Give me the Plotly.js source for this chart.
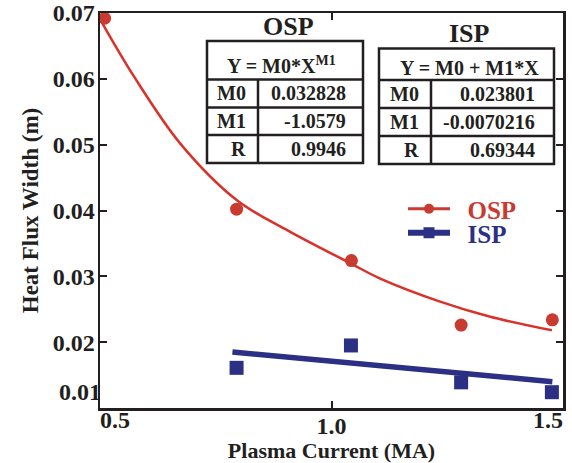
<!DOCTYPE html>
<html><head><meta charset="utf-8">
<script src="https://cdn.plot.ly/plotly-3.0.1.min.js"></script>
<style>html,body{margin:0;padding:0;background:#fff}</style>
</head><body><div id="chart" style="width:572px;height:463px"></div>
<script>
// ---- data ----
const ospCurrent = [0.51, 0.795, 1.043, 1.28, 1.477];
const ospWidth   = [0.0692, 0.0402, 0.0324, 0.0226, 0.0234];
const ispCurrent = [0.795, 1.042, 1.28, 1.476];
const ispWidth   = [0.0161, 0.0195, 0.0139, 0.0124];
const ospFitCurrent = [0.503, 0.573, 0.673, 0.795, 0.907, 1.043, 1.104, 1.233, 1.341, 1.476];
const ospFitWidth   = [0.0687, 0.0604, 0.0502, 0.0416, 0.0369, 0.0319, 0.0297, 0.0262, 0.0239, 0.0218];
const ispFitCurrent = [0.786, 1.477];
const ispFitWidth   = [0.0185, 0.0140];
const xTickVals = [0.5, 1.0, 1.5];
const xTickText = ['0.5', '1.0', '1.5'];
const yTickVals = [0.01, 0.02, 0.03, 0.04, 0.05, 0.06, 0.07];
const yTickText = ['0.01', '0.02', '0.03', '0.04', '0.05', '0.06', '0.07'];
const ospParamNames  = ['M0', 'M1', 'R'];
const ospParamValues = ['0.032828', '-1.0579', '0.9946'];
const ispParamNames  = ['M0', 'M1', 'R'];
const ispParamValues = ['0.023801', '-0.0070216', '0.69344'];
const ospEquation = 'Y = M0*X<sup>M1</sup>';
const ispEquation = 'Y = M0 + M1*X';

// ---- style ----
const RED = '#c93a30', RED_LINE = '#d8322a', BLUE = '#2b3085', INK = '#231f20';
const FONT = 'Liberation Serif, Times New Roman, serif';
const M = {l: 100, r: 9, t: 13, b: 55};
const W = 572, H = 463;
const PW = W - M.l - M.r, PH = H - M.t - M.b;
const PX = p => (p - M.l) / PW;
const PY = p => (H - M.b - p) / PH;

const traces = [
  {x: ospFitCurrent, y: ospFitWidth, mode: 'lines', line: {color: RED_LINE, width: 2.5, shape: 'spline'}, showlegend: false, hoverinfo: 'skip'},
  {x: ispFitCurrent, y: ispFitWidth, mode: 'lines', line: {color: BLUE, width: 5.5}, showlegend: false, hoverinfo: 'skip'},
  {x: ospCurrent, y: ospWidth, mode: 'markers', marker: {symbol: 'circle', size: 13, color: RED}, showlegend: false, cliponaxis: false},
  {x: ispCurrent, y: ispWidth, mode: 'markers', marker: {symbol: 'square', size: 14, color: BLUE}, showlegend: false, cliponaxis: false},
  {x: [null], y: [null], name: '\u00a0\u00a0OSP', mode: 'lines+markers', line: {color: RED, width: 3}, marker: {symbol: 'circle', size: 10, color: RED}, legend: 'legend'},
  {x: [null], y: [null], name: '\u00a0\u00a0ISP', mode: 'lines+markers', line: {color: BLUE, width: 6}, marker: {symbol: 'square', size: 11, color: BLUE}, legend: 'legend2'},
  // empty carriers so the edge-label axes get drawn
  {x: [null], y: [null], xaxis: 'x2', yaxis: 'y', showlegend: false, hoverinfo: 'skip'},
  {x: [null], y: [null], xaxis: 'x3', yaxis: 'y', showlegend: false, hoverinfo: 'skip'},
  {x: [null], y: [null], xaxis: 'x', yaxis: 'y2', showlegend: false, hoverinfo: 'skip'}
];

const shapes = [];
const annotations = [];
function hline(x0, x1, y) { shapes.push({type: 'line', xref: 'paper', yref: 'paper', x0: PX(x0), x1: PX(x1), y0: PY(y), y1: PY(y), line: {color: INK, width: 2.5}, layer: 'above'}); }
function vline(x, y0, y1) { shapes.push({type: 'line', xref: 'paper', yref: 'paper', x0: PX(x), x1: PX(x), y0: PY(y0), y1: PY(y1), line: {color: INK, width: 2.5}, layer: 'above'}); }
function txt(t, x, y, size, xanchor, yanchor) {
  annotations.push({text: t, xref: 'paper', yref: 'paper', x: PX(x), y: PY(y), xanchor: xanchor || 'center', yanchor: yanchor || 'middle', showarrow: false, font: {family: FONT, size: size, color: INK, weight: 'bold'}});
}
function table(box, rowsY, divX, names, values, nameRight, valRight, rowCenters) {
  shapes.push({type: 'rect', xref: 'paper', yref: 'paper', x0: PX(box[0]), x1: PX(box[1]), y0: PY(box[2]), y1: PY(box[3]), line: {color: INK, width: 2.5}, fillcolor: 'white', layer: 'above'});
  rowsY.forEach(y => hline(box[0], box[1], y));
  vline(divX, rowsY[0], box[3]);
  names.forEach((n, i) => txt(n, nameRight, rowCenters[i], 20, 'right'));
  values.forEach((v, i) => txt(v, valRight, rowCenters[i], 20, 'right'));
}
// OSP table
table([207, 363, 41, 163], [79.5, 107.5, 135], 258, ospParamNames, ospParamValues, 248, 348, [93.5, 121.2, 149]);
txt('OSP', 288, 27, 26);
txt(ospEquation, 281, 79, 20, 'center', 'bottom');
// ISP table
table([379, 554, 48.5, 164], [80, 108, 136], 431, ispParamNames, ispParamValues, 421, 537, [94, 122, 150]);
txt('ISP', 469, 34, 26);
txt(ispEquation, 469, 68, 20);

const tickFont = {family: FONT, size: 24, color: INK, weight: 'bold'};
const axCommon = {showgrid: false, zeroline: false, ticks: 'inside', ticklen: 7, tickwidth: 2, tickcolor: INK, tickfont: tickFont};
const edgeX = {overlaying: 'x', matches: 'x', anchor: 'y', side: 'bottom', ticks: '', showline: false, showgrid: false, zeroline: false, tickfont: tickFont, ticklabelstandoff: -5};
const edgeY = {overlaying: 'y', matches: 'y', anchor: 'x', side: 'left', ticks: '', showline: false, showgrid: false, zeroline: false, tickfont: tickFont, ticklabelstandoff: -2};

const layout = {
  width: W, height: H,
  margin: M,
  paper_bgcolor: 'white', plot_bgcolor: 'white',
  font: {family: FONT, size: 24, color: INK, weight: 'bold'},
  showlegend: true,
  xaxis: Object.assign({}, axCommon, {range: [0.5, 1.5], tickvals: [xTickVals[1]], ticktext: [xTickText[1]], showline: true, linewidth: 2.5, linecolor: INK, mirror: 'ticks', ticklabelstandoff: -5,
    title: {text: 'Plasma Current (MA)', font: {family: FONT, size: 22, color: INK, weight: 'bold'}, standoff: 6}}),
  xaxis2: Object.assign({}, edgeX, {tickvals: [xTickVals[0]], ticktext: [xTickText[0]], ticklabelposition: 'outside right'}),
  xaxis3: Object.assign({}, edgeX, {tickvals: [xTickVals[2]], ticktext: [xTickText[2]], ticklabelposition: 'outside left'}),
  yaxis: Object.assign({}, axCommon, {range: [0.01, 0.07], tickvals: yTickVals.slice(1), ticktext: yTickText.slice(1), showline: true, linewidth: 2.5, linecolor: INK, mirror: 'ticks', ticklabelstandoff: -2,
    title: {text: 'Heat Flux Width (m)', font: {family: FONT, size: 23, color: INK, weight: 'bold'}, standoff: 8}}),
  yaxis2: Object.assign({}, edgeY, {tickvals: [yTickVals[0]], ticktext: [yTickText[0]], ticklabelposition: 'outside top'}),
  legend: {x: PX(403), y: PY(209), xanchor: 'left', yanchor: 'middle', bgcolor: 'rgba(0,0,0,0)', itemwidth: 42, tracegroupgap: 0, font: {family: FONT, size: 25, color: RED, weight: 'bold'}},
  legend2: {x: PX(403), y: PY(233), xanchor: 'left', yanchor: 'middle', bgcolor: 'rgba(0,0,0,0)', itemwidth: 42, tracegroupgap: 0, font: {family: FONT, size: 25, color: BLUE, weight: 'bold'}},
  shapes: shapes,
  annotations: annotations
};
Plotly.newPlot('chart', traces, layout, {displayModeBar: false, staticPlot: true});
</script></body></html>
